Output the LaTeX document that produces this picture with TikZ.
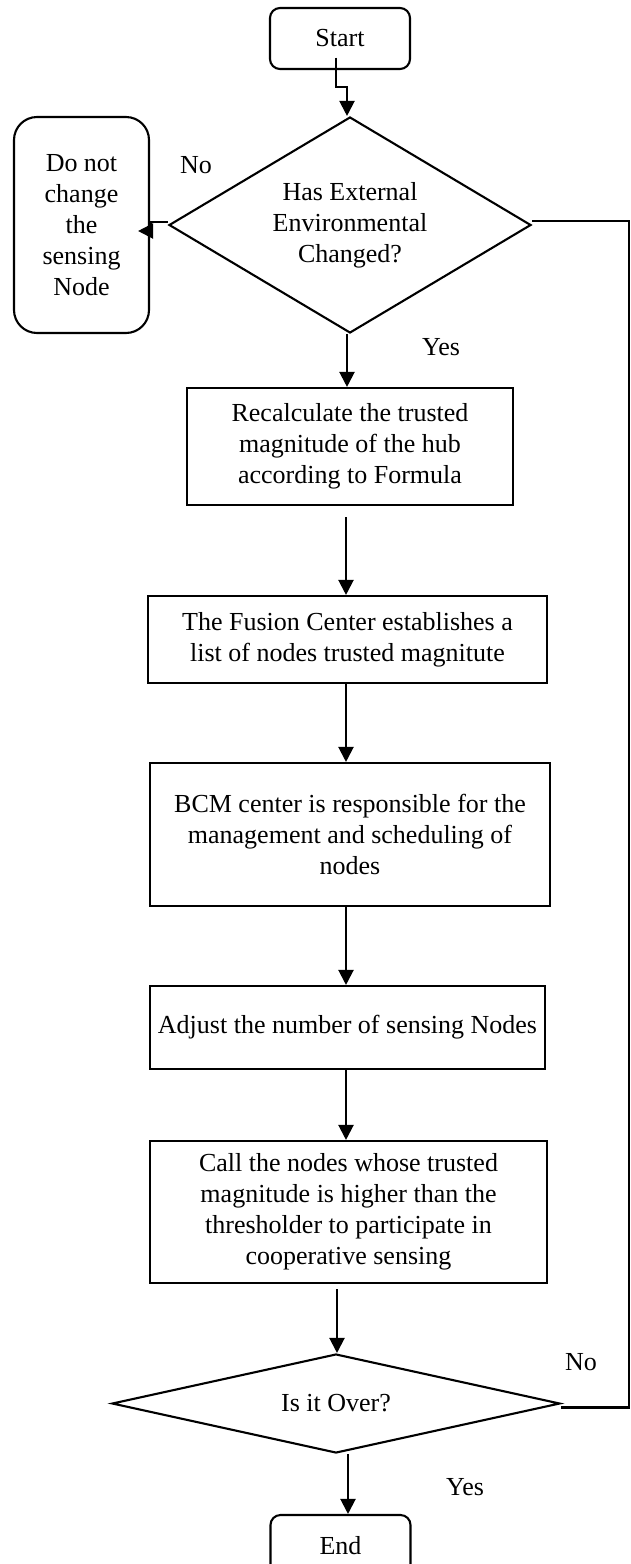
\documentclass[tikz,border=0pt]{standalone}
\usepackage{fontspec}
\setmainfont{Liberation Serif}
\usetikzlibrary{arrows.meta,shapes.geometric}
\begin{document}
\begin{tikzpicture}[x=1pt,y=-1pt,
  every node/.style={font=\fontsize{26}{31}\selectfont, inner sep=0pt, align=center},
  flowbox/.style={draw, line width=2.1pt, rectangle},
  flowround/.style={draw, line width=2.1pt, rectangle, rounded corners=10pt},
  decision/.style={draw, line width=2.1pt, diamond},
  conn/.style={line width=2.1pt},
  arr/.style={conn, -{Triangle[length=15pt,width=15pt]}}]
\useasboundingbox (0,0) rectangle (630,1564);
\fill[white] (0,0) rectangle (630,1564);

% terminals, process boxes and decisions
\node[flowround, minimum width=140pt, minimum height=61pt] (start) at (340,38.5) {Start};
\node[decision, minimum width=362pt, minimum height=216pt, aspect=1.676] (d1) at (350,225)
  {Has External\\Environmental\\Changed?};
\node[flowround, rounded corners=23pt, minimum width=135pt, minimum height=216pt] (keep) at (81.5,225)
  {Do not\\change\\the\\sensing\\Node};
\node[flowbox, minimum width=326pt, minimum height=117pt] (b1) at (350,446.5)
  {Recalculate the trusted\\magnitude of the hub\\according to Formula};
\node[flowbox, minimum width=399pt, minimum height=87pt] (b2) at (347.5,639.5)
  {The Fusion Center establishes a\\list of nodes trusted magnitute};
\node[flowbox, minimum width=400pt, minimum height=143pt] (b3) at (350,834.5)
  {BCM center is responsible for the\\management and scheduling of\\nodes};
\node[flowbox, minimum width=395pt, minimum height=83pt] (b4) at (347.5,1027.5)
  {Adjust the number of sensing Nodes};
\node[flowbox, minimum width=397pt, minimum height=142pt] (b5) at (348.5,1212)
  {Call the nodes whose trusted\\magnitude is higher than the\\thresholder to participate in\\cooperative sensing};
\node[decision, minimum width=448pt, minimum height=99pt, aspect=4.5] (d2) at (336,1403.5) {Is it Over?};
\node[flowround, minimum width=140pt, minimum height=61pt] (end) at (340.5,1545.5) {End};

% branch labels
\node (no1) at (196,165) {No};
\node (yes1) at (441,347) {Yes};
\node (no2) at (581,1362) {No};
\node (yes2) at (465,1487) {Yes};

% connectors
\coordinate (j1) at (347,87);
\draw[arr] ([shift={(-4,19)}]start.center) |- (j1) -- ([xshift=-3pt]d1.north);
\draw[arr] ([yshift=3pt]d1.west) -- ++(-17,0) -- ++(0,9) -- ([shift={(-12,6)}]keep.east);
\coordinate (rt) at (629,221);
\draw[conn] ([yshift=4pt]d1.east) -- (rt) |- ([yshift=-4pt]d2.east);
\draw[arr] ([xshift=-3pt]d1.south) -- ([xshift=-3pt]d1.south |- b1.north);
\draw[arr] ([shift={(-4,11)}]b1.south) -- ([xshift=-4pt]b1.south |- b2.north);
\draw[arr] ([xshift=-1.5pt]b2.south) -- ([xshift=-1.5pt]b2.south |- b3.north);
\draw[arr] ([xshift=-4pt]b3.south) -- ([xshift=-4pt]b3.south |- b4.north);
\draw[arr] ([xshift=-1.5pt]b4.south) -- ([xshift=-1.5pt]b4.south |- b5.north);
\draw[arr] ([shift={(-11.5,5)}]b5.south) -- ([xshift=-11.5pt]b5.south |- d2.north);
\draw[arr] ([xshift=12pt]d2.south) -- ([xshift=12pt]d2.south |- end.north);
\end{tikzpicture}
\end{document}
